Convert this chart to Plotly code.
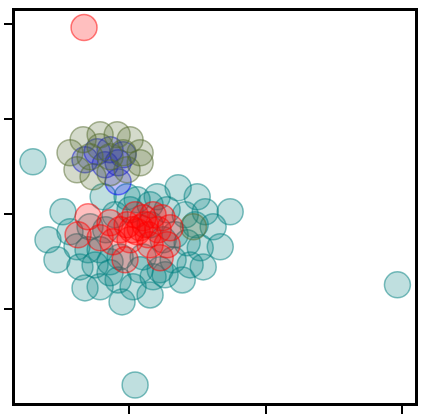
import plotly.graph_objects as go

# ---- data ----
teal_x = [-0.708, 0.042, 1.968, -0.488, -0.598, -0.532, -0.326, -0.054, 0.152, 0.388,
          0.358, 0.498, 0.740, 0.667, 0.542, 0.615, 0.204, 0.057, 0.174, -0.142,
          -0.215, -0.363, -0.385, -0.289, -0.193, -0.017, 0.277, 0.027, -0.215, 0.321,
          0.424, 0.248, 0.101, -0.068, -0.105, 0.483, 0.557, 0.410, -0.436, -0.252,
          0.262, 0.079, -0.083, 0.446, 0.152,
          -0.174, 0.152, 0.005, 0.336, -0.142, 0.226, 0.520, -0.304]
teal_y = [1.547, -0.800, 0.253, 1.021, 0.726, 0.516, 0.221, 0.074, 0.147, 0.305,
          1.274, 1.179, 1.021, 0.653, 0.442, 0.863, 1.179, 1.147, 0.337, 0.379,
          0.621, 0.442, 0.653, 0.863, 1.179, 1.179, 1.042, 0.232, 0.232, 0.516,
          0.695, 0.726, 0.547, 0.547, 0.989, 0.884, 1.021, 0.989, 0.811, 0.463,
          0.358, 0.411, 0.305, 0.463, 1.095,
          0.832, 0.884, 1.042, 0.779, 0.495, 0.411, 0.642, 0.621]

blue_x = [-0.326, -0.237, -0.142, -0.046, -0.178, -0.083, -0.083]
blue_y = [1.568, 1.653, 1.674, 1.621, 1.516, 1.537, 1.337]

olive_x = [-0.436, -0.340, -0.215, -0.090, 0.005, 0.079, 0.079, -0.017, -0.142, -0.267,
           -0.385, -0.289, -0.142, -0.046, -0.215, 0.470]
olive_y = [1.642, 1.779, 1.832, 1.832, 1.779, 1.642, 1.537, 1.463, 1.432, 1.389,
           1.463, 1.600, 1.600, 1.642, 1.705, 0.863]

red_x = [-0.333, -0.303, -0.377, -0.142, -0.032, 0.226, 0.277, 0.101, -0.017, 0.057,
         0.079, 0.299, 0.174, -0.215, -0.120, 0.005, 0.138, 0.211, -0.068, 0.042,
         0.152, 0.116, 0.240, 0.020]
red_y = [2.958, 0.968, 0.779, 0.905, 0.516, 0.537, 0.674, 0.958, 0.884, 0.811,
         0.853, 0.853, 0.989, 0.747, 0.705, 0.726, 0.779, 0.832, 0.832, 0.989,
         0.674, 0.884, 0.958, 0.832]

x_ticks = [0, 1, 2]
y_ticks = [0, 1, 2, 3]

series = [
    (teal_x, teal_y, (0, 128, 128)),
    (blue_x, blue_y, (0, 0, 255)),
    (olive_x, olive_y, (85, 107, 47)),
    (red_x, red_y, (255, 0, 0)),
]

fig = go.Figure()
for xs, ys, (r, g, b) in series:
    fig.add_trace(go.Scatter(
        x=xs, y=ys, mode="markers", showlegend=False, hoverinfo="skip",
        marker=dict(size=26, color=f"rgba({r},{g},{b},0.25)",
                    line=dict(color=f"rgba({r},{g},{b},0.5)", width=1.5)),
    ))

axis_common = dict(showgrid=False, zeroline=False, showticklabels=False,
                   showline=True, mirror=True, linecolor="black", linewidth=2.5,
                   ticks="outside", ticklen=8, tickwidth=2, tickcolor="black",
                   automargin=False)

fig.update_layout(
    width=423, height=415,
    margin=dict(l=15, r=8, t=11, b=12),
    paper_bgcolor="white", plot_bgcolor="white",
    xaxis=dict(range=[-0.840, 2.097], tickvals=x_ticks, **axis_common),
    yaxis=dict(range=[-0.989, 3.132], tickvals=y_ticks, **axis_common),
)

fig.write_html("out.html", config={"displayModeBar": False},
               post_script="document.body.style.margin='0';document.body.style.overflow='hidden';")
